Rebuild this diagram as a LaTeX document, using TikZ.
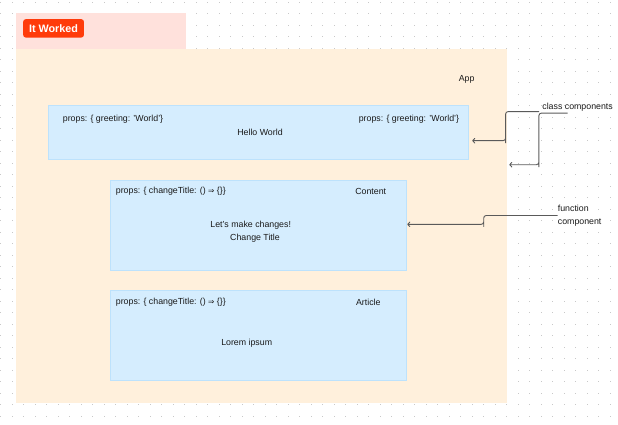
\documentclass[tikz,border=0pt]{standalone}
\usepackage{fontspec}
\setmainfont{Liberation Sans}
\newfontfamily\dejavu{DejaVu Sans}
\usetikzlibrary{arrows.meta}
\definecolor{dotc}{HTML}{C8C8C8}
\definecolor{pinkbg}{HTML}{FFE1DC}
\definecolor{badgec}{HTML}{FF3B0A}
\definecolor{appbg}{HTML}{FFF0DC}
\definecolor{bluebg}{HTML}{D5EDFE}
\definecolor{blueline}{HTML}{BDE2FC}
\definecolor{txtc}{HTML}{1A1A1A}
\definecolor{arrc}{HTML}{5A5A5A}
\tikzset{
  region/.style={draw=none, anchor=north west, inner sep=0, outer sep=0},
  bluebox/.style={fill=bluebg, draw=blueline, line width=0.6pt, anchor=north west, inner sep=0, outer sep=0},
  lbl/.style={inner sep=0, text=txtc, font=\fontsize{8.8}{10}\selectfont},
  conn/.style={draw=arrc, line width=0.9pt, rounded corners=2.5pt, -{To[length=3pt,width=5.5pt]}},
}
\begin{document}
\begin{tikzpicture}[x=1pt,y=-1pt]
\useasboundingbox (0,0) rectangle (618,424);
% dotted grid
\foreach \i in {0,...,53}{
  \foreach \j in {0,...,36}{
    \fill[dotc] ({0.7+11.5*\i-0.55},{2.3+11.5*\j-0.55}) rectangle ++(1.1,1.1);
  }
}
% top pink bar
\node[region, fill=pinkbg, minimum width=169.7pt, minimum height=35.7pt] (topbar) at (16,13.3) {};
\node[fill=badgec, rounded corners=2.5pt, minimum width=60.7pt, minimum height=18.3pt, inner sep=0, text=white, font=\bfseries\fontsize{10.8}{12}\selectfont, anchor=north west] (badge) at (23,19) {It Worked};
% App area
\node[region, fill=appbg, minimum width=490.7pt, minimum height=354pt] (app) at (16,49) {};
\node[lbl] (applbl) at (466.7,79) {App};
% Hello World box
\node[bluebox, minimum width=420.4pt, minimum height=54.3pt] (hello) at (48.3,105) {};
\node[lbl, anchor=west] (hp1) at (62.7,119) {props: \{ greeting: 'World'\}};
\node[lbl, anchor=east] (hp2) at (459.3,119) {props: \{ greeting: 'World'\}};
\node[lbl] (hw) at (260,132.7) {Hello World};
% Content box
\node[bluebox, minimum width=296.7pt, minimum height=90.7pt] (content) at (110,180) {};
\node[lbl, anchor=west] (cp) at (115.7,191.7) {props: \{ changeTitle: () {\dejavu\fontsize{7.5}{10}\selectfont ⇒} \{\}\}};
\node[lbl] (ct) at (370.7,191.7) {Content};
\node[lbl] (cm) at (250.7,225.7) {Let's make changes!};
\node[lbl] (cb) at (255,238.3) {Change Title};
% Article box
\node[bluebox, minimum width=296.7pt, minimum height=90.7pt] (article) at (110,290) {};
\node[lbl, anchor=west] (ap) at (115.7,302.3) {props: \{ changeTitle: () {\dejavu\fontsize{7.5}{10}\selectfont ⇒} \{\}\}};
\node[lbl] (at) at (368.3,302.3) {Article};
\node[lbl] (al) at (246.7,343.7) {Lorem ipsum};
% annotations
\node[lbl] (classlbl) at (577.6,107.3) {class components};
\node[lbl, align=left, anchor=west, font=\fontsize{8.8}{13}\selectfont] (funclbl) at (557.7,215.5) {function\\component};
\coordinate (apptip) at (509.3,164.7);
% connectors
\draw[conn] ([xshift=-3pt]classlbl.south west) -| ++(-33.6,29) |- ([yshift=-8.5pt,xshift=3.5pt]hello.east);
\draw[conn] ([xshift=-10pt,yshift=-1.5pt]classlbl.south) -| ++(-28.7,51.4) |- (apptip);
\draw[conn] (funclbl.west) -| ++(-74,8.8) |- ([xshift=0.6pt,yshift=1pt]content.east);
\end{tikzpicture}
\end{document}
